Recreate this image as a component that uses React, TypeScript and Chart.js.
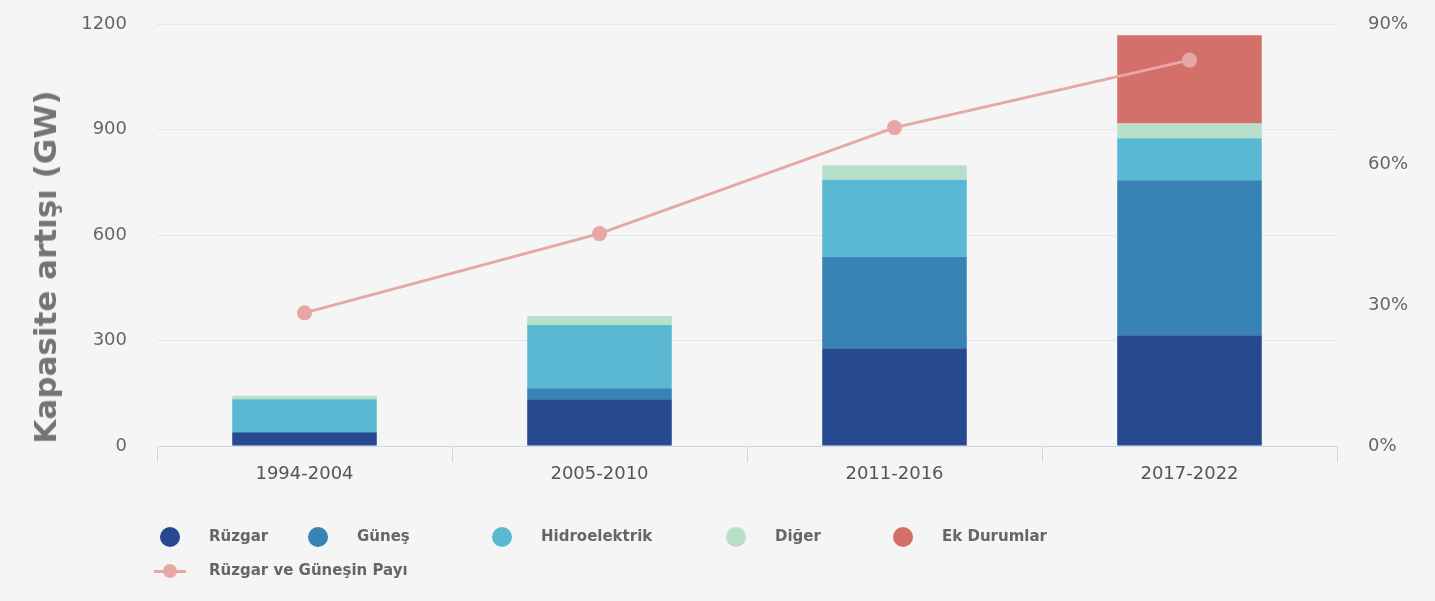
import React, { useEffect, useRef } from "react";
import { Chart, registerables } from "chart.js";

Chart.register(...registerables);

// ---- data ----
const categories = ["1994-2004", "2005-2010", "2011-2016", "2017-2022"];
const ruzgar = [37, 133, 278, 315];
const gunes = [3, 31, 260, 441];
const hidroelektrik = [93, 180, 219, 119];
const diger = [10, 26, 41, 42];
const ekDurumlar = [null, null, null, 251];
const ruzgarGunesPayi = [28.4, 45.3, 67.9, 82.3];
const leftTickValues = [0, 300, 600, 900, 1200];
const rightTickValues = [0, 30, 60, 90];

const seriesNames = ["Rüzgar", "Güneş", "Hidroelektrik", "Diğer", "Ek Durumlar"];
const lineName = "Rüzgar ve Güneşin Payı";
const yTitle = "Kapasite artışı (GW)";

// ---- styles ----
const COLORS = ["#27498f", "#3783b5", "#5bb8d2", "#b7dfca", "#d4706a"];
const LINE_COLOR = "#e6a7a5";
const BG = "#f5f5f5";
const TICK_COLOR = "#666666";
const TICK_FONT = { family: "'DejaVu Sans', sans-serif", size: 18 };

export default function App() {
  const ref = useRef<HTMLCanvasElement>(null);

  useEffect(() => {
    const barSeries = [ruzgar, gunes, hidroelektrik, diger, ekDurumlar];
    const fixVPad = (s: any, w: number) => {
      s.width = w;
      s.paddingTop = 10;
      s.paddingBottom = 10;
    };
    const chart = new Chart(ref.current as HTMLCanvasElement, {
      data: {
        labels: categories,
        datasets: [
          {
            type: "line",
            label: lineName,
            data: ruzgarGunesPayi,
            yAxisID: "y1",
            borderColor: LINE_COLOR,
            backgroundColor: LINE_COLOR,
            pointBackgroundColor: LINE_COLOR,
            pointBorderWidth: 0,
            borderWidth: 3,
            pointRadius: 7.5,
            order: 0,
          } as any,
          ...barSeries.map((d, i) => ({
            type: "bar",
            label: seriesNames[i],
            data: d,
            yAxisID: "y",
            backgroundColor: COLORS[i],
            borderWidth: 0,
            barPercentage: 0.49,
            categoryPercentage: 1,
            order: 1,
          })) as any,
        ],
      },
      options: {
        animation: false,
        responsive: false,
        maintainAspectRatio: false,
        layout: { padding: { top: 24, left: 0, right: 0, bottom: 0 } },
        plugins: {
          legend: { display: false },
          tooltip: { enabled: false },
        },
        scales: {
          x: {
            stacked: true,
            grid: {
              offset: true,
              drawOnChartArea: false,
              drawTicks: true,
              tickLength: 16,
              color: "#ccd6eb",
            },
            border: { display: true, color: "#ccd6eb", width: 1 },
            ticks: { font: TICK_FONT, color: "#555555", padding: 2 },
            afterFit: (s: any) => {
              s.height = 155;
            },
          },
          y: {
            stacked: true,
            position: "left",
            min: 0,
            max: 1200,
            afterBuildTicks: (s: any) => {
              s.ticks = leftTickValues.map((v) => ({ value: v }));
            },
            grid: { color: "#e6e6e6", drawTicks: false, lineWidth: 1 },
            border: { display: false },
            ticks: {
              font: TICK_FONT,
              color: TICK_COLOR,
              padding: 30,
              callback: (v: any) => String(v),
            },
            afterFit: (s: any) => fixVPad(s, 157),
          },
          y1: {
            position: "right",
            min: 0,
            max: 90,
            afterBuildTicks: (s: any) => {
              s.ticks = rightTickValues.map((v) => ({ value: v }));
            },
            grid: { drawOnChartArea: false, drawTicks: false },
            border: { display: false },
            ticks: {
              font: TICK_FONT,
              color: TICK_COLOR,
              padding: 31,
              callback: (v: any) => `${v}%`,
            },
            afterFit: (s: any) => fixVPad(s, 98),
          },
        },
      } as any,
    });
    return () => chart.destroy();
  }, []);

  const legendFont: React.CSSProperties = {
    fontFamily: "'DejaVu Sans', sans-serif",
    fontWeight: "bold",
    fontSize: 15,
    color: "#666666",
    position: "absolute",
    whiteSpace: "nowrap",
    lineHeight: "20px",
  };
  const itemX = [170, 318, 502, 736, 903];

  return (
    <div
      style={{
        position: "absolute",
        left: 0,
        top: 0,
        width: 1435,
        height: 601,
        background: BG,
        overflow: "hidden",
      }}
    >
      <canvas
        ref={ref}
        width={1435}
        height={601}
        style={{ position: "absolute", left: 0, top: 0, width: 1435, height: 601 }}
      />
      <div
        style={{
          position: "absolute",
          left: 45,
          top: 267,
          transform: "translate(-50%, -50%) rotate(-90deg)",
          whiteSpace: "nowrap",
          fontFamily: "'DejaVu Sans', sans-serif",
          fontWeight: "bold",
          fontSize: 31,
          lineHeight: "36px",
          color: "#747474",
        }}
      >
        {yTitle}
      </div>
      {seriesNames.map((name, i) => (
        <React.Fragment key={name}>
          <div
            style={{
              position: "absolute",
              left: itemX[i] - 10,
              top: 537 - 10,
              width: 20,
              height: 20,
              borderRadius: "50%",
              background: COLORS[i],
            }}
          />
          <div style={{ ...legendFont, left: itemX[i] + 39, top: 537 - 11 }}>{name}</div>
        </React.Fragment>
      ))}
      <div
        style={{
          position: "absolute",
          left: 154,
          top: 571 - 1.5,
          width: 32,
          height: 3,
          background: LINE_COLOR,
        }}
      />
      <div
        style={{
          position: "absolute",
          left: 170 - 7,
          top: 571 - 7,
          width: 14,
          height: 14,
          borderRadius: "50%",
          background: LINE_COLOR,
        }}
      />
      <div style={{ ...legendFont, left: 209, top: 571 - 11 }}>{lineName}</div>
    </div>
  );
}
